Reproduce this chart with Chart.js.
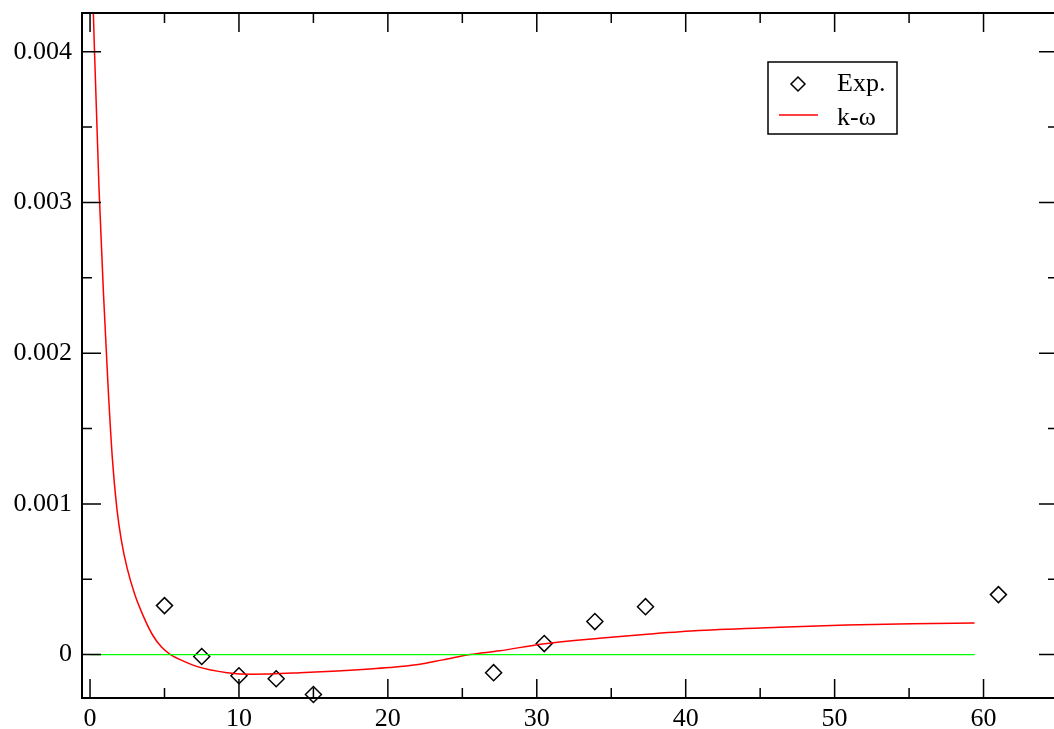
<!DOCTYPE html>
<html>
<head>
<meta charset="utf-8">
<script src="https://cdn.jsdelivr.net/npm/chart.js@4"></script>
<style>
  html, body { margin: 0; padding: 0; overflow: hidden; background: #fff; }
  #wrap { width: 1054px; height: 729px; overflow: hidden; }
</style>
</head>
<body>
<div id="wrap"><canvas id="chart" width="1062" height="729"></canvas></div>
<script>
// experimental points
const expX = [5, 7.5, 10, 12.5, 15, 27.1, 30.5, 33.9, 37.3, 61];
const expY = [0.000325, -0.000013, -0.00014, -0.00016, -0.000265, -0.00012, 0.000073, 0.000219, 0.000318, 0.000398];

// k-omega curve
const curveX = [0, 0.3, 0.6, 0.9, 1.2, 1.5, 1.8, 2.1, 2.5, 3.0, 3.6, 4.2, 4.8, 5.4, 6.2, 7.2, 9.2, 10.9, 14.1, 18.8, 20.1, 21.9, 23.7, 25.5, 27.5, 30.4, 34.2, 37.6, 40.9, 46.3, 50.8, 55.2, 59.4];
const curveY = [0.005, 0.004, 0.0031, 0.0024, 0.0018, 0.0013, 0.00097, 0.00076, 0.00057, 0.0004, 0.00025, 0.00013, 0.00005, 0, -0.00004, -0.00008, -0.00012, -0.00013, -0.00012, -0.000095, -0.000086, -0.000068, -0.000035, 0, 0.000025, 0.000071, 0.000109, 0.000137, 0.00016, 0.000182, 0.000196, 0.000205, 0.00021];

// zero line
const zeroX = [0, 59.4];
const zeroY = [0, 0];

// ticks
const xMajor = [0, 10, 20, 30, 40, 50, 60];
const xMinor = [5, 15, 25, 35, 45, 55, 65];
const yMajor = [0, 0.001, 0.002, 0.003, 0.004];
const yMinor = [0.0005, 0.0015, 0.0025, 0.0035];

function zip(xs, ys) {
  return xs.map((x, i) => ({ x: x, y: ys[i] }));
}

const font = { family: "'Liberation Serif', 'DejaVu Serif', serif", size: 26 };

function noPadding(s) {
  s.paddingLeft = 0;
  s.paddingRight = 0;
  s.paddingTop = 0;
  s.paddingBottom = 0;
}

const framePlugin = {
  id: "frame",
  afterDatasetsDraw(chart) {
    const ctx = chart.ctx;
    const a = chart.chartArea;
    const xs = chart.scales.x;
    const ys = chart.scales.y;
    ctx.save();
    ctx.strokeStyle = "#000";
    ctx.lineWidth = 1.5;
    ctx.beginPath();
    const tickX = (vals, len) => vals.forEach(v => {
      const px = xs.getPixelForValue(v);
      if (px < a.left || px > a.right) return;
      ctx.moveTo(px, a.bottom); ctx.lineTo(px, a.bottom - len);
      ctx.moveTo(px, a.top); ctx.lineTo(px, a.top + len);
    });
    const tickY = (vals, len) => vals.forEach(v => {
      const py = ys.getPixelForValue(v);
      ctx.moveTo(a.left, py); ctx.lineTo(a.left + len, py);
      ctx.moveTo(a.right, py); ctx.lineTo(a.right - len, py);
    });
    tickX(xMajor, 19); tickX(xMinor, 10);
    tickY(yMajor, 19); tickY(yMinor, 10);
    ctx.stroke();
    ctx.lineWidth = 2;
    ctx.strokeRect(a.left, a.top, a.right - a.left, a.bottom - a.top);

    // legend box
    ctx.lineWidth = 1.5;
    ctx.strokeRect(768, 62, 129, 72);
    ctx.beginPath();
    ctx.moveTo(798, 77); ctx.lineTo(805, 84); ctx.lineTo(798, 91); ctx.lineTo(791, 84); ctx.closePath();
    ctx.stroke();
    ctx.strokeStyle = "#ff0000";
    ctx.beginPath();
    ctx.moveTo(779, 115); ctx.lineTo(818, 115);
    ctx.stroke();
    ctx.fillStyle = "#000";
    ctx.font = "26px 'Liberation Serif', serif";
    ctx.textBaseline = "alphabetic";
    ctx.fillText("Exp.", 837, 91);
    ctx.fillText("k-\u03c9", 837, 125);
    ctx.restore();
  }
};

new Chart(document.getElementById("chart"), {
  type: "scatter",
  data: {
    datasets: [
      {
        label: "zero",
        data: zip(zeroX, zeroY),
        showLine: true,
        borderColor: "#00ff00",
        borderWidth: 1.3,
        pointRadius: 0,
      },
      {
        label: "k-\u03c9",
        data: zip(curveX, curveY),
        showLine: true,
        borderColor: "#ff0000",
        borderWidth: 1.5,
        pointRadius: 0,
        cubicInterpolationMode: "monotone",
      },
      {
        label: "Exp.",
        data: zip(expX, expY),
        showLine: false,
        pointStyle: "rectRot",
        pointRadius: 8,
        pointBorderColor: "#000",
        pointBackgroundColor: "rgba(0,0,0,0)",
        pointBorderWidth: 1.5,
        clip: false,
      },
    ],
  },
  options: {
    responsive: false,
    animation: false,
    events: [],
    layout: { autoPadding: false, padding: { top: 13, right: 4, left: 0, bottom: 0 } },
    plugins: { legend: { display: false }, tooltip: { enabled: false } },
    scales: {
      x: {
        type: "linear",
        min: -0.54,
        max: 65,
        grid: { display: false, drawTicks: false },
        border: { display: false },
        ticks: { font: font, color: "#000", padding: 6 },
        afterBuildTicks: (s) => { s.ticks = xMajor.map(v => ({ value: v })); },
        afterFit: (s) => { s.height = 31; noPadding(s); },
      },
      y: {
        type: "linear",
        min: -0.000288,
        max: 0.004257,
        grid: { display: false, drawTicks: false },
        border: { display: false },
        ticks: {
          font: font,
          color: "#000",
          padding: 10,
          callback: (v) => (v === 0 ? "0" : v.toFixed(3)),
        },
        afterBuildTicks: (s) => { s.ticks = yMajor.map(v => ({ value: v })); },
        afterFit: (s) => { s.width = 82; noPadding(s); },
      },
    },
  },
  plugins: [framePlugin],
});
</script>
</body>
</html>
